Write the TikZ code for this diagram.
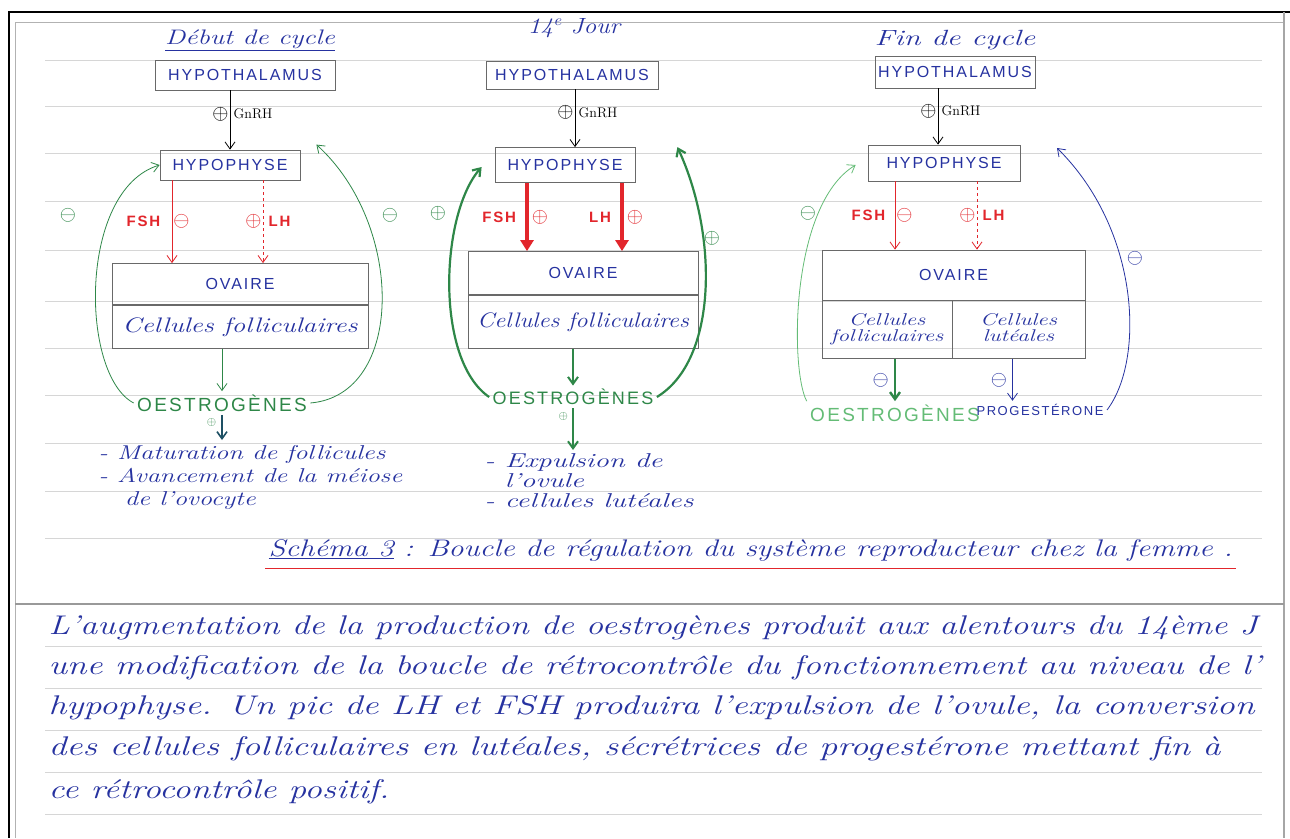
\documentclass[tikz,border=0pt]{standalone}
\usepackage{fontspec}
\newfontfamily\capsfont[LetterSpace=12]{Liberation Sans}
\usetikzlibrary{positioning,arrows.meta}

\definecolor{inkblue}{RGB}{38,50,160}
\definecolor{inkred}{RGB}{226,38,44}
\definecolor{inkgreen}{RGB}{46,135,72}
\definecolor{lightgreen}{RGB}{100,188,118}
\definecolor{inkteal}{RGB}{30,80,100}
\definecolor{boxgray}{RGB}{105,105,105}
\definecolor{rulegray}{RGB}{214,214,214}

\newcommand{\handsize}[1]{\fontsize{#1}{#1}\selectfont}
% handwriting runs wide: stretch the cursive lines sideways
\newcommand{\wide}[2][1.3]{\scalebox{#1}[1]{#2}}
\newcommand{\lines}[1]{\begin{tabular}{@{}l@{}}#1\end{tabular}}
\newcommand{\clines}[1]{\begin{tabular}{@{}c@{}}#1\end{tabular}}

\begin{document}
\begin{tikzpicture}[
        x=1pt, y=-1pt,
        >={Straight Barb[length=7pt,width=10pt]},
        organ/.style={draw=boxgray, thick, inner sep=0pt, text=inkblue, font=\capsfont\handsize{16}},
        cursive/.style={text=inkblue, font=\itshape\handsize{21}},
        hlabel/.style={text=inkred, font=\capsfont\bfseries\handsize{15}},
        sign/.style={inner sep=1pt, font=\handsize{21}},
        hormone/.style={->, inkred, thick},
        lhdash/.style={->, inkred, thick, dashed},
        pulse/.style={-{Triangle[length=11pt,width=13pt]}, inkred, line width=3.5pt},
        feedback/.style={->, inkgreen, thick},
        steroid/.style={text=inkgreen, font=\capsfont\handsize{18}},
        ruled/.style={rulegray, line width=0.8pt}
    ]
    \useasboundingbox (0,0) rectangle (1290,838);

    % --- page: frame and ruled lines ---
    \fill[white] (0,0) rectangle (1290,838);
    \foreach \y in {60,106,153,201,250,301,348,395,443,491,538,646,688,730,772,814}
        \draw[ruled] (45,\y) -- (1262,\y);
    \draw[black, line width=2pt] (8,12) -- (1290,12);
    \draw[gray!60, line width=1pt] (15,22) -- (1284,22);
    \draw[black, line width=2pt] (9,12) -- (9,838);
    \draw[gray!60, line width=1pt] (15,22) -- (15,838);
    \draw[gray!70, line width=1.2pt] (1284,12) -- (1284,838);
    \draw[gray!80, line width=1.2pt] (15,604) -- (1284,604);

    % --- 1. Debut de cycle ---
    \begin{scope}
        \node[cursive] (title1) at (250,40) {\wide{\underline{Début de cycle}}};
        \node[organ, minimum width=180pt, minimum height=30pt] (hth1) at (245,75) {HYPOTHALAMUS};
        \node[organ, minimum width=140pt, minimum height=30pt] (hyp1) at (230,165) {HYPOPHYSE};
        \node[organ, minimum width=256pt, minimum height=41pt] (ov1) at (240,284) {OVAIRE};
        \node[organ, cursive, minimum width=256pt, minimum height=43pt, below=0pt of ov1] (cel1) {\wide{Cellules folliculaires}};
        \node[steroid, font=\capsfont\handsize{19}] (oes1) at (222,403) {OESTROGÈNES};
        \node[cursive, anchor=north west, font=\itshape\fontsize{20}{23}\selectfont] (eff1) at (95,440)
            {\wide[1.32]{\lines{- Maturation de follicules\\- Avancement de la méiose\\\hspace{20pt}de l'ovocyte}}};

        \draw[->, thick] (hth1.south -| hyp1.north) -- (hyp1.north)
            node[pos=.4, left, sign] {$\oplus$}
            node[pos=.4, right, font=\handsize{14}] {GnRH};

        \coordinate (fsh1) at ([xshift=-58pt]hyp1.south);
        \coordinate (lh1) at ([xshift=33pt]hyp1.south);
        \draw[hormone] (fsh1) -- (fsh1 |- ov1.north)
            node[midway, left=8pt, hlabel] {FSH}
            node[midway, right, sign, text=inkred] {$\ominus$};
        \draw[lhdash] (lh1) -- (lh1 |- ov1.north)
            node[midway, left, sign, text=inkred] {$\oplus$}
            node[midway, right=2pt, hlabel] {LH};

        \draw[->, inkgreen, thick] (cel1.south -| oes1.north) -- (oes1.north);
        \draw[->, inkteal, line width=1.6pt] (oes1.south) -- (oes1.south |- eff1.north)
            node[pos=.3, left=4pt, sign, text=inkgreen, font=\handsize{12}] {$\oplus$};

        % feedback loops
        \draw[feedback] (oes1.west) .. controls (80,375) and (78,190) .. (hyp1.west);
        \draw[feedback] (oes1.east) .. controls (405,395) and (405,225) .. ([xshift=16pt,yshift=5pt]hyp1.north east);
        \node[sign, text=inkgreen] (fb1a) at (68,215) {$\ominus$};
        \node[sign, text=inkgreen] (fb1b) at (390,215) {$\ominus$};
    \end{scope}

    % --- 2. 14e jour ---
    \begin{scope}
        \node[cursive, font=\itshape\handsize{22}] (title2) at (574,28) {\wide[1.15]{14\textsuperscript{e} Jour}};
        \node[organ, minimum width=172pt, minimum height=28pt] (hth2) at (572,75) {HYPOTHALAMUS};
        \node[organ, minimum width=140pt, minimum height=35pt] (hyp2) at (565,165) {HYPOPHYSE};
        \node[organ, minimum width=230pt, minimum height=43pt] (ov2) at (583,273) {OVAIRE};
        \node[organ, cursive, minimum width=230pt, minimum height=53pt, below=0pt of ov2] (cel2) {\wide[1.17]{Cellules folliculaires}};
        \node[steroid] (oes2) at (573,397) {OESTROGÈNES};
        \node[cursive, anchor=north west, font=\itshape\fontsize{20}{20}\selectfont] (eff2) at (481,450)
            {\wide[1.45]{\lines{- Expulsion de\\\hspace{14pt}l'ovule\\- cellules lutéales}}};

        \coordinate (gn2) at ([xshift=10pt]hyp2.north);
        \draw[->, thick] (gn2 |- hth2.south) -- (gn2)
            node[pos=.4, left, sign] {$\oplus$}
            node[pos=.4, right, font=\handsize{14}] {GnRH};

        \coordinate (fsh2) at ([xshift=-38pt]hyp2.south);
        \coordinate (lh2) at ([xshift=57pt]hyp2.south);
        \draw[pulse] (fsh2) -- (fsh2 |- ov2.north)
            node[midway, left=6pt, hlabel] {FSH}
            node[midway, right=2pt, sign, text=inkred] {$\oplus$};
        \draw[pulse] (lh2) -- (lh2 |- ov2.north)
            node[midway, left=6pt, hlabel] {LH}
            node[midway, right=2pt, sign, text=inkred] {$\oplus$};

        \draw[->, inkgreen, line width=2pt] (cel2.south -| oes2.north) -- (oes2.north);
        \draw[->, inkgreen, line width=2pt] (oes2.south) -- (oes2.south |- eff2.north)
            node[pos=.2, left=3pt, sign, text=inkgreen, font=\handsize{12}] {$\oplus$};

        % feedback loops
        \draw[feedback, line width=2.2pt] (oes2.west) .. controls (435,360) and (440,215) .. ([xshift=-13pt,yshift=-2pt]hyp2.west);
        \draw[feedback, line width=2.2pt] (oes2.east) .. controls (718,360) and (718,235) .. ([xshift=42pt]hyp2.north east);
        \node[sign, text=inkgreen] (fb2a) at (438,213) {$\oplus$};
        \node[sign, text=inkgreen] (fb2b) at (712,238) {$\oplus$};
    \end{scope}

    % --- 3. Fin de cycle ---
    \begin{scope}
        \node[cursive, font=\itshape\handsize{22}] (title3) at (955,40) {\wide[1.4]{Fin de cycle}};
        \node[organ, minimum width=160pt, minimum height=32pt] (hth3) at (955,72) {HYPOTHALAMUS};
        \node[organ, minimum width=152pt, minimum height=36pt] (hyp3) at (944,163) {HYPOPHYSE};
        \node[organ, minimum width=263pt, minimum height=50pt] (ov3) at (953.5,275) {OVAIRE};
        \node[organ, cursive, font=\itshape\fontsize{17}{16}\selectfont,
              minimum width=130pt, minimum height=58pt, anchor=north west] (cel3a) at (ov3.south west)
              {\wide[1.35]{\clines{Cellules\\folliculaires}}};
        \node[organ, cursive, font=\itshape\fontsize{17}{16}\selectfont,
              minimum width=133pt, minimum height=58pt, anchor=north east] (cel3b) at (ov3.south east)
              {\wide[1.35]{\clines{Cellules\\lutéales}}};
        \node[steroid, text=lightgreen, font=\capsfont\handsize{19}] (oes3) at (895,413) {OESTROGÈNES};
        \node[text=inkblue, font=\capsfont\handsize{13}] (prog3) at (1040,410) {PROGESTÉRONE};

        \coordinate (gn3) at ([xshift=-6pt]hyp3.north);
        \draw[->, thick] (gn3 |- hth3.south) -- (gn3)
            node[pos=.4, left, sign] {$\oplus$}
            node[pos=.4, right, font=\handsize{14}] {GnRH};

        \coordinate (fsh3) at ([xshift=-49pt]hyp3.south);
        \coordinate (lh3) at ([xshift=33pt]hyp3.south);
        \draw[hormone] (fsh3) -- (fsh3 |- ov3.north)
            node[midway, left=6pt, hlabel] {FSH}
            node[midway, right, sign, text=inkred] {$\ominus$};
        \draw[lhdash] (lh3) -- (lh3 |- ov3.north)
            node[midway, left, sign, text=inkred] {$\oplus$}
            node[midway, right=2pt, hlabel] {LH};

        \draw[->, inkgreen, line width=2.4pt] (cel3a.south -| oes3.north) -- (oes3.north)
            node[midway, left=4pt, sign, text=inkblue] {$\ominus$};
        \coordinate (pg3) at ([xshift=-6pt]cel3b.south);
        \draw[->, inkblue, thick] (pg3) -- (pg3 |- prog3.north)
            node[midway, left=4pt, sign, text=inkblue] {$\ominus$};

        % feedback loops
        \draw[->, lightgreen, thick] (oes3.north west) .. controls (790,370) and (790,205) .. ([xshift=-12pt,yshift=-2pt]hyp3.west);
        \coordinate (fb3) at (1057,148);
        \draw[->, inkblue, thick] (prog3.east) .. controls (1145,360) and (1140,230) .. (fb3);
        \node[sign, text=inkgreen] (fb3a) at (808,213) {$\ominus$};
        \node[sign, text=inkblue] (fb3b) at (1135,258) {$\ominus$};
    \end{scope}

    % --- caption ---
    \node[cursive, anchor=base west, font=\itshape\handsize{24}] (cap) at (265,556)
        {\wide[1.27]{\underline{Schéma 3} : Boucle de régulation du système reproducteur chez la femme .}};
    \draw[inkred, line width=1.2pt] ([yshift=-4pt]cap.south west) -- ([yshift=-4pt]cap.south east);

    % --- comment text ---
    \begin{scope}[every node/.style={cursive, anchor=base west, font=\itshape\handsize{27}}]
        \node (txt1) at (45,634) {\wide[1.28]{L'augmentation de la production de oestrogènes produit aux alentours du 14ème J}};
        \node (txt2) at (45,674) {\wide[1.31]{une modification de la boucle de rétrocontrôle du fonctionnement au niveau de l'}};
        \node (txt3) at (45,714) {\wide[1.33]{hypophyse. Un pic de LH et FSH produira l'expulsion de l'ovule, la conversion}};
        \node (txt4) at (45,755) {\wide[1.33]{des cellules folliculaires en lutéales, sécrétrices de progestérone mettant fin à}};
        \node (txt5) at (45,798) {\wide[1.3]{ce rétrocontrôle positif.}};
    \end{scope}

\end{tikzpicture}
\end{document}
